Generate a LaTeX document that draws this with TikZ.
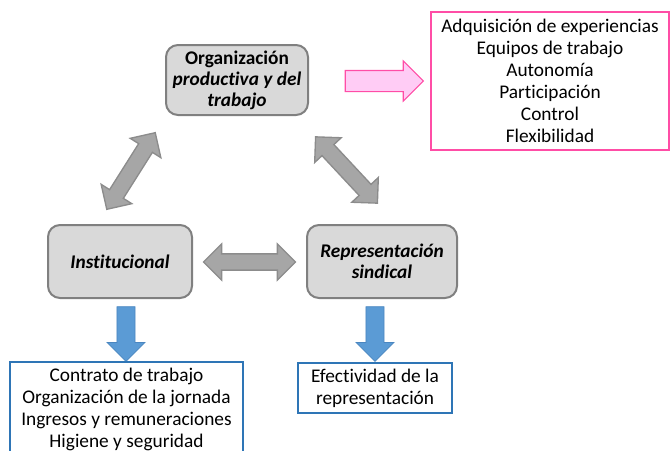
\documentclass[tikz,border=0pt]{standalone}
\usepackage{fontspec}
\setmainfont{Carlito}[Ligatures=NoCommon]
\usetikzlibrary{shapes.arrows}

\definecolor{factorfill}{HTML}{D9D9D9}
\definecolor{factorline}{HTML}{808080}
\definecolor{linkfill}{HTML}{A6A6A6}
\definecolor{linkline}{HTML}{8C8C8C}
\definecolor{pinkfill}{HTML}{FFCCF5}
\definecolor{pinkline}{HTML}{FF4DA6}
\definecolor{bluefill}{HTML}{5B9BD5}
\definecolor{blueline}{HTML}{4A86C0}
\definecolor{boxblue}{HTML}{2E75B6}

\tikzset{
  factor/.style={draw=factorline, fill=factorfill, line width=1.5pt,
    rounded corners=9pt, align=center, inner sep=0pt,
    font=\fontsize{14.5}{15.8}\selectfont\bfseries\itshape},
  link/.style={double arrow, draw=linkline, fill=linkfill, line width=1pt,
    inner xsep=0pt, inner ysep=5.6pt, double arrow head extend=7.5pt,
    minimum height=68pt},
  outflow/.style={single arrow, draw=blueline, fill=bluefill, line width=0.6pt,
    inner xsep=0pt, inner ysep=6.5pt, single arrow head extend=7.3pt,
    minimum height=41pt, rotate=-90},
  itemlist/.style={draw, line width=1.2pt, align=center, inner sep=0pt,
    font=\fontsize{14.5}{16.5}\selectfont},
}

\begin{document}
\begin{tikzpicture}[x=0.75pt,y=-0.75pt]
  \useasboundingbox (0,0) rectangle (670,450);

  % factores
  \node[factor, minimum width=106.5pt, minimum height=52.5pt] (org) at (237,80)
    {{\upshape Organización}\\productiva y del\\trabajo};
  \node[factor, minimum width=108pt, minimum height=54.75pt] (inst) at (120,261.5)
    {Institucional};
  \node[factor, minimum width=112.5pt, minimum height=54.75pt] (rep) at (382,261.5)
    {Representación\\sindical};

  % relaciones
  \node[link, rotate=57.7] (orginst) at (131,171) {};
  \node[link, rotate=-47] (orgrep) at (346.5,170) {};
  \node[link, minimum height=69pt] (instrep) at (249.5,262) {};

  % resultados
  \node[single arrow, draw=pinkline, fill=pinkfill, line width=0.8pt,
    inner xsep=0pt, inner ysep=7.5pt, single arrow head extend=7.1pt,
    minimum height=58.5pt] (orgout) at (379,81) {};
  \node[itemlist, draw=pinkline, minimum width=178.5pt, minimum height=103.5pt]
    (orglist) at (550,81)
    {Adquisición de experiencias\\Equipos de trabajo\\Autonomía\\Participación\\Control\\Flexibilidad};

  \node[outflow] (instout) at (126,329.5) {};
  \node[itemlist, draw=boxblue, minimum width=174.75pt, minimum height=70.5pt]
    (instlist) at (126.5,409)
    {Contrato de trabajo\\Organización de la jornada\\Ingresos y remuneraciones\\Higiene y seguridad};

  \node[outflow] (repout) at (375,329.5) {};
  \node[itemlist, draw=boxblue, minimum width=115.5pt, minimum height=37.5pt]
    (replist) at (375,388)
    {Efectividad de la\\representación};
\end{tikzpicture}
\end{document}
